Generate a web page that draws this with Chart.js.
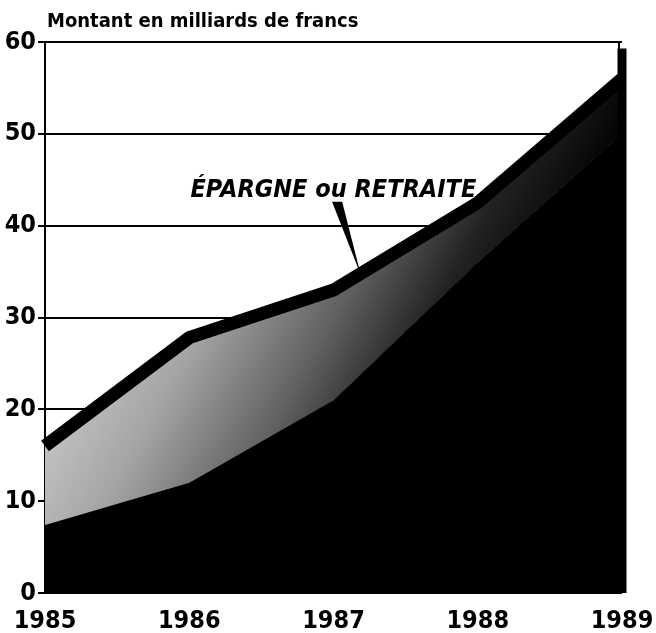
<!DOCTYPE html>
<html>
<head>
<meta charset="utf-8">
<script src="https://cdn.jsdelivr.net/npm/chart.js@4"></script>
<style>
  body { margin: 0; background: #fff; }
  #wrap { width: 656px; height: 633px; }
</style>
</head>
<body>
<div id="wrap"><canvas id="myChart" width="656" height="633"></canvas></div>
<script>
const annees = ["1985", "1986", "1987", "1988", "1989"];
const epargneRetraite = [16, 27.8, 33, 42.5, 56];
const partieSombre = [7.4, 12, 21, 36, 50];
const ticksY = [0, 10, 20, 30, 40, 50, 60];
const titre = "Montant en milliards de francs";
const etiquette = "ÉPARGNE ou RETRAITE";

const police = "'Liberation Sans Narrow', 'DejaVu Sans Condensed', sans-serif";

// trame grise : claire en haut a gauche, noire en bas a droite
function degrade(context) {
    const chart = context.chart;
    const area = chart.chartArea;
    if (!area) return "#888";
    const g = chart.ctx.createLinearGradient(area.left, area.top + 258, area.left + 475, area.top + 518);
    g.addColorStop(0, "#dadada");
    g.addColorStop(0.28, "#a4a4a4");
    g.addColorStop(0.48, "#626262");
    g.addColorStop(0.64, "#222");
    g.addColorStop(0.8, "#000");
    return g;
}

const decor = {
    id: "decor",
    afterDatasetsDraw(chart) {
        const c = chart.ctx;
        const area = chart.chartArea;
        const x = chart.scales.x;
        const y = chart.scales.y;
        c.save();
        // bord droit
        c.strokeStyle = "#000";
        c.lineWidth = 2;
        c.beginPath();
        c.moveTo(area.right - 3, area.top);
        c.lineTo(area.right - 3, area.bottom);
        c.stroke();
        c.lineWidth = 9;
        c.beginPath();
        c.moveTo(area.right, y.getPixelForValue(59.3));
        c.lineTo(area.right, area.bottom);
        c.stroke();
        // titre
        c.fillStyle = "#000";
        c.font = "bold 20px " + police;
        c.textBaseline = "alphabetic";
        c.textAlign = "left";
        c.fillText(titre, area.left + 2, 27);
        // etiquette
        c.font = "italic bold 25px " + police;
        c.textAlign = "right";
        c.fillText(etiquette, x.getPixelForValue(2.99), y.getPixelForValue(43.1));
        // fleche
        const tx = x.getPixelForValue(2.19);
        const ty = y.getPixelForValue(34.6);
        const by = y.getPixelForValue(42.6);
        c.beginPath();
        c.moveTo(x.getPixelForValue(1.99), by);
        c.lineTo(x.getPixelForValue(2.06), by);
        c.lineTo(tx, ty);
        c.closePath();
        c.fill();
        c.restore();
    }
};

const ctx = document.getElementById("myChart").getContext("2d");
new Chart(ctx, {
    type: "line",
    data: {
        labels: annees,
        datasets: [{
            label: etiquette,
            data: epargneRetraite,
            borderColor: "#000",
            borderWidth: 13,
            borderJoinStyle: "miter",
            pointRadius: 0,
            tension: 0,
            fill: 1,
            backgroundColor: degrade
        }, {
            label: "fond",
            data: partieSombre,
            borderColor: "#000",
            borderWidth: 1,
            pointRadius: 0,
            tension: 0,
            fill: "origin",
            backgroundColor: "#000"
        }]
    },
    options: {
        responsive: false,
        animation: false,
        layout: { padding: { top: 42, right: 0, bottom: 0, left: 0 } },
        plugins: {
            legend: { display: false },
            tooltip: { enabled: false }
        },
        scales: {
            x: {
                offset: false,
                grid: { display: false },
                border: { display: false },
                ticks: {
                    color: "#000",
                    padding: 5,
                    maxRotation: 0,
                    font: { family: police, size: 25, weight: "bold" }
                },
                afterFit(scale) {
                    scale.height = 40;
                    scale.paddingRight = 34;
                    scale.paddingLeft = 0;
                }
            },
            y: {
                min: 0,
                max: 60,
                afterBuildTicks(scale) { scale.ticks = ticksY.map(v => ({ value: v })); },
                grid: { color: "#000", lineWidth: 2, tickLength: 7, tickColor: "#000" },
                border: { display: true, color: "#000", width: 2 },
                ticks: {
                    color: "#000",
                    padding: 2,
                    font: { family: police, size: 25, weight: "bold" }
                },
                afterFit(scale) { scale.width = 45; }
            }
        }
    },
    plugins: [decor]
});
</script>
</body>
</html>
